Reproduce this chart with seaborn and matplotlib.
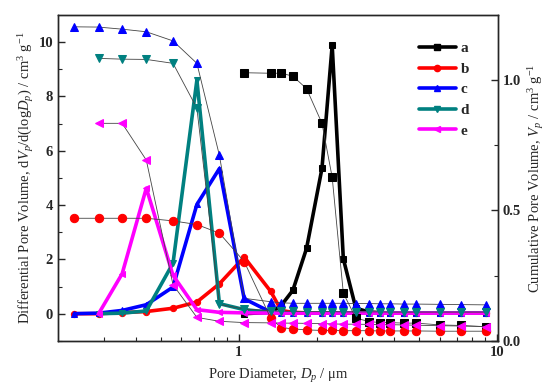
import numpy as np
import pandas as pd
import matplotlib
matplotlib.use("Agg")
import matplotlib.pyplot as plt
import seaborn as sns
from matplotlib.ticker import FixedLocator, NullFormatter, FuncFormatter
from matplotlib.lines import Line2D

# ---------------- data ----------------
x_a = [1.05, 1.33, 1.46, 1.62, 1.83, 2.10, 2.30, 2.54, 2.84, 3.20, 3.53, 3.86, 4.36, 4.87, 6.02, 7.24, 9.05]
x_bc = [0.231, 0.287, 0.354, 0.439, 0.557, 0.689, 0.842] + x_a
x_de = x_bc[1:]

a_diff = [0.0, 0.05, 0.30, 0.86, 2.40, 5.35, 9.88, 2.02, 0.20, 0.06, 0.04, 0.03, 0.03, 0.02, 0.02, 0.02, 0.02]
a_cum = [1.028, 1.026, 1.026, 1.015, 0.967, 0.834, 0.627, 0.183, 0.087, 0.074, 0.070, 0.070, 0.068, 0.068, 0.061, 0.059, 0.054]

b_diff = [0.0, 0.0, 0.04, 0.08, 0.20, 0.43, 1.10, 2.08, 0.82, 0.12, 0.05, 0.03,
          0.02, 0.02, 0.02, 0.02, 0.02, 0.02, 0.02, 0.02, 0.02, 0.02, 0.02, 0.02]
b_cum = [0.47, 0.47, 0.47, 0.47, 0.46, 0.446, 0.413, 0.304, 0.087, 0.051, 0.046, 0.042,
         0.040, 0.040, 0.039, 0.039, 0.039, 0.038, 0.038, 0.038, 0.038, 0.037, 0.037, 0.037]

c_diff = [0.0, 0.02, 0.12, 0.33, 0.98, 4.02, 5.34, 0.55, 0.06, 0.03, 0.02, 0.02,
          0.02, 0.02, 0.02, 0.02, 0.02, 0.02, 0.02, 0.02, 0.02, 0.02, 0.02, 0.02]
c_cum = [1.204, 1.203, 1.195, 1.185, 1.150, 1.064, 0.711, 0.163, 0.150, 0.146, 0.144, 0.144,
         0.144, 0.144, 0.144, 0.143, 0.143, 0.142, 0.142, 0.141, 0.141, 0.140, 0.139, 0.138]

d_diff = [0.0, 0.02, 0.10, 1.86, 8.60, 0.37, 0.15, 0.05, 0.03, 0.02, 0.02,
          0.02, 0.02, 0.02, 0.02, 0.02, 0.02, 0.02, 0.02, 0.02, 0.02, 0.02, 0.02]
d_cum = [1.083, 1.080, 1.079, 1.064, 0.892, 0.140, 0.122, 0.116, 0.114, 0.113, 0.112,
         0.112, 0.112, 0.111, 0.111, 0.111, 0.111, 0.110, 0.110, 0.110, 0.110, 0.110, 0.110]

e_diff = [0.0, 1.47, 4.62, 1.41, 0.15, 0.05, 0.03, 0.02, 0.02, 0.02, 0.02,
          0.02, 0.02, 0.02, 0.02, 0.02, 0.02, 0.02, 0.02, 0.02, 0.02, 0.02, 0.02]
e_cum = [0.834, 0.834, 0.693, 0.215, 0.090, 0.075, 0.070, 0.069, 0.068, 0.068, 0.067,
         0.066, 0.065, 0.064, 0.064, 0.063, 0.062, 0.062, 0.061, 0.060, 0.058, 0.057, 0.055]

labels = ["a", "b", "c", "d", "e"]
colors = ["#000000", "#ff0000", "#0000ff", "#008080", "#ff00ff"]
markers = ["s", "o", "^", "v", "<"]
xs = [x_a, x_bc, x_bc, x_de, x_de]
diffs = [a_diff, b_diff, c_diff, d_diff, e_diff]
cums = [a_cum, b_cum, c_cum, d_cum, e_cum]

# ---------------- style ----------------
sns.set_style("ticks")
plt.rcParams["font.family"] = ["Liberation Serif", "DejaVu Serif"]
plt.rcParams["mathtext.fontset"] = "custom"
plt.rcParams["mathtext.rm"] = "Liberation Serif"
plt.rcParams["mathtext.it"] = "Liberation Serif:italic"
plt.rcParams["mathtext.bf"] = "Liberation Serif:bold"
plt.rcParams["xtick.direction"] = "in"
plt.rcParams["ytick.direction"] = "in"

fig = plt.figure(figsize=(5.53, 3.90), dpi=100)
ax = fig.add_axes([0.105, 0.126, 0.795, 0.836])
ax2 = ax.twinx()

for lab, col, mk, x, dv, cv in zip(labels, colors, markers, xs, diffs, cums):
    df = pd.DataFrame({"D": x, "dV": dv, "V": cv})
    sns.lineplot(data=df, x="D", y="dV", ax=ax, color=col, lw=2.6, marker=mk,
                 markersize=4.5, markeredgecolor=col, sort=False, label=lab, legend=False)
    sns.lineplot(data=df, x="D", y="V", ax=ax2, color="#444444", lw=0.6, marker=mk,
                 markersize=6.0, markerfacecolor=col, markeredgecolor=col, sort=False, legend=False)

ax.set_xscale("log")
ax.set_xlim(0.2, 10.05)
ax.set_ylim(-1, 11)
ax2.set_ylim(0, 1.25)

ax.xaxis.set_major_locator(FixedLocator([1, 10]))
ax.xaxis.set_major_formatter(FuncFormatter(lambda v, p: "%g" % v))
ax.xaxis.set_minor_locator(FixedLocator([0.3, 0.4, 0.5, 0.6, 0.7, 0.8, 0.9, 2, 3, 4, 5, 6, 7, 8, 9]))
ax.xaxis.set_minor_formatter(NullFormatter())
ax.yaxis.set_major_locator(FixedLocator([0, 2, 4, 6, 8, 10]))
ax.yaxis.set_minor_locator(FixedLocator([-1, 1, 3, 5, 7, 9]))
ax2.yaxis.set_major_locator(FixedLocator([0.0, 0.5, 1.0]))
ax2.yaxis.set_major_formatter(FuncFormatter(lambda v, p: "%.1f" % v))
ax2.yaxis.set_minor_locator(FixedLocator([0.25, 0.75]))

for a_ in (ax, ax2):
    a_.tick_params(which="major", direction="in", length=5, width=1, labelsize=10.5)
    a_.tick_params(which="minor", direction="in", length=3, width=0.8)
    for lbl in a_.get_xticklabels() + a_.get_yticklabels():
        lbl.set_fontweight("bold")
    for s in a_.spines.values():
        s.set_linewidth(1.0)
        s.set_visible(True)
ax.tick_params(axis="x", top=False)

ax.set_xlabel("Pore Diameter, $D_p$ / \u03bcm", fontsize=10.5, labelpad=6)
ax.set_ylabel("Differential Pore Volume, d$V_p$/d(log$D_p$) / cm$^3$ g$^{-1}$", fontsize=10.5, labelpad=2)
ax2.set_ylabel("Cumulative Pore Volume, $V_p$ / cm$^3$ g$^{-1}$", fontsize=10.5, labelpad=4)

handles = [Line2D([], [], color=c, lw=2.6, marker=m, markersize=4.5) for c, m in zip(colors, markers)]
leg = ax2.legend(handles, labels, loc="upper left", bbox_to_anchor=(0.79, 0.96), frameon=False,
                 handlelength=2.4, handletextpad=0.3, labelspacing=0.45,
                 prop={"family": "Liberation Serif", "weight": "bold", "size": 11})

fig.savefig("out.png", dpi=100)
